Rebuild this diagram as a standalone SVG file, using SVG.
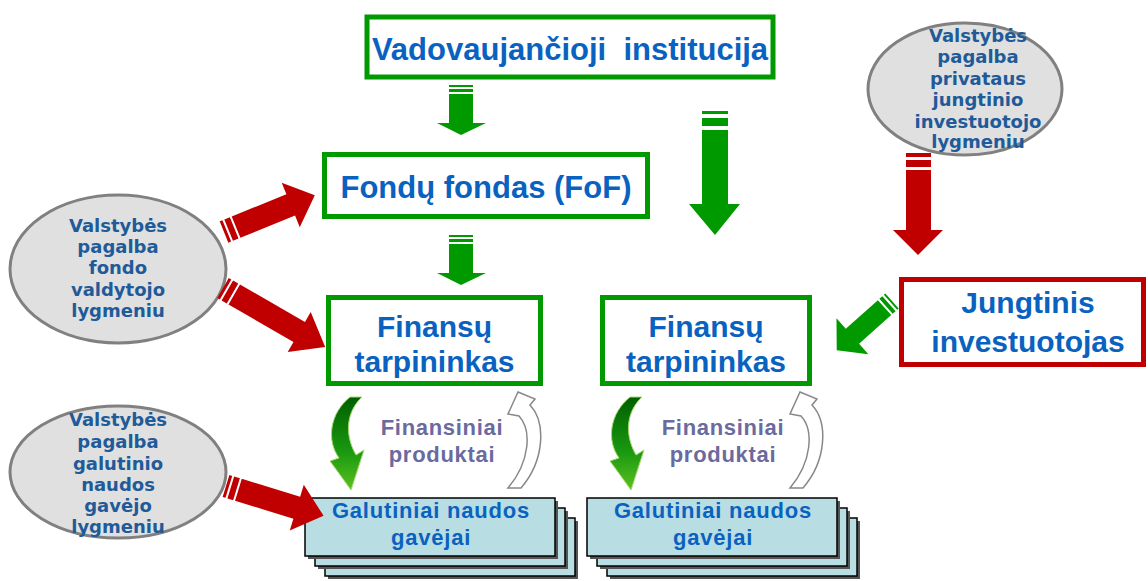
<svg xmlns="http://www.w3.org/2000/svg" width="1148" height="581" viewBox="0 0 1148 581">
<style>
.box{fill:#fff;stroke:#009900;stroke-width:5}
.rbox{fill:#fff;stroke:#c00000;stroke-width:5}
.t{font-family:"Liberation Sans",Arial,sans-serif;font-weight:bold;fill:#0a62c0;text-anchor:middle}
.gt{font-size:22px;letter-spacing:0.8px}
.ell{fill:#e0e0e0;stroke:#808080;stroke-width:3}
.et{font-family:"DejaVu Sans",Verdana,sans-serif;font-weight:bold;font-size:18px;fill:#1f5a99;text-anchor:middle}
.fp{font-family:"Liberation Sans",Arial,sans-serif;font-weight:bold;font-size:22px;letter-spacing:0.7px;fill:#6a6a9e;text-anchor:middle}
.card{fill:#b8dde3;stroke:#000;stroke-width:1.5}
.sh{fill:#555}
.g{fill:#009900}
.r{fill:#c00000}
.wa{fill:#fff;stroke:#888;stroke-width:1.5}
</style>
<defs>
<linearGradient id="cg" x1="0" y1="0" x2="0" y2="1">
<stop offset="0" stop-color="#005f00"/>
<stop offset="0.6" stop-color="#1a9a10"/>
<stop offset="1" stop-color="#5cc020"/>
</linearGradient>
<g id="stack">
<rect class="sh" x="23" y="23" width="250" height="58"/>
<rect class="card" x="20" y="20" width="250" height="58"/>
<rect class="sh" x="13" y="13" width="250" height="58"/>
<rect class="card" x="10" y="10" width="250" height="58"/>
<rect class="sh" x="3" y="3" width="250" height="58"/>
<rect class="card" x="0" y="0" width="250" height="58"/>
</g>
</defs>

<g id="vadovaujancioji">
<rect class="box" x="367" y="17" width="406" height="60"/>
<text class="t" x="570" y="60" font-size="31" xml:space="preserve" style="white-space:pre">Vadovaujančioji  institucija</text>
</g>

<g id="fof">
<rect class="box" x="324.5" y="154.5" width="323" height="62"/>
<text class="t" x="486" y="198" font-size="31">Fondų fondas (FoF)</text>
</g>

<g id="finansu1">
<rect class="box" x="328.5" y="297.5" width="212" height="86"/>
<text class="t" x="434.5" y="337" font-size="30">Finansų</text>
<text class="t" x="434.5" y="372" font-size="30">tarpininkas</text>
</g>

<g id="finansu2">
<rect class="box" x="602.5" y="297.5" width="207" height="86"/>
<text class="t" x="706" y="337" font-size="30">Finansų</text>
<text class="t" x="706" y="372" font-size="30">tarpininkas</text>
</g>

<g id="jungtinis">
<rect class="rbox" x="901.5" y="279.5" width="242" height="85"/>
<text class="t" x="1028" y="313" font-size="30">Jungtinis</text>
<text class="t" x="1028" y="352" font-size="30">investuotojas</text>
</g>

<g id="pagalba-fondo">
<ellipse class="ell" cx="118" cy="269" rx="108" ry="74"/>
<text class="et" x="118" y="232">Valstybės</text>
<text class="et" x="118" y="253">pagalba</text>
<text class="et" x="118" y="274">fondo</text>
<text class="et" x="118" y="296">valdytojo</text>
<text class="et" x="118" y="317">lygmeniu</text>
</g>

<g id="pagalba-gavejo">
<ellipse class="ell" cx="118" cy="472" rx="108" ry="66"/>
<text class="et" x="118" y="426">Valstybės</text>
<text class="et" x="118" y="448">pagalba</text>
<text class="et" x="118" y="470">galutinio</text>
<text class="et" x="118" y="491">naudos</text>
<text class="et" x="118" y="512">gavėjo</text>
<text class="et" x="118" y="533">lygmeniu</text>
</g>

<g id="pagalba-investuotojo">
<ellipse class="ell" cx="965" cy="89" rx="97" ry="66"/>
<text class="et" x="978" y="42">Valstybės</text>
<text class="et" x="978" y="63">pagalba</text>
<text class="et" x="978" y="85">privataus</text>
<text class="et" x="978" y="106">jungtinio</text>
<text class="et" x="978" y="128">investuotojo</text>
<text class="et" x="978" y="148">lygmeniu</text>
</g>

<g id="gavejai1">
<use href="#stack" x="305" y="498"/>
<text class="t gt" x="431" y="518">Galutiniai naudos</text>
<text class="t gt" x="431" y="545">gavėjai</text>
</g>

<g id="gavejai2">
<use href="#stack" x="587" y="498"/>
<text class="t gt" x="713" y="518">Galutiniai naudos</text>
<text class="t gt" x="713" y="545">gavėjai</text>
</g>

<g id="finansiniai-produktai1">
<text class="fp" x="442" y="435">Finansiniai</text>
<text class="fp" x="442" y="462">produktai</text>
</g>
<g id="finansiniai-produktai2">
<text class="fp" x="723" y="435">Finansiniai</text>
<text class="fp" x="723" y="462">produktai</text>
</g>

<g id="connectors">
<path class="g" d="M449 85h24v2h-24z M449 89h24v3h-24z M449 94h24v29h13l-25 12l-24-12h12z"/>
<path class="g" d="M449 235h24v2h-24z M449 239h24v3h-24z M449 244h24v29h13l-25 12l-24-12h12z"/>
<path class="g" d="M702 111h26v3h-26z M702 118h26v8h-26z M702 130h26v74h12l-25 31l-26-31h13z"/>
<path class="r" d="M906 153h25v4h-25z M906 160h25v7h-25z M906 170h25v60h12l-25 25l-25-25h13z"/>
<path class="r" transform="translate(224,232) rotate(-22.1)" d="M0 -11.5h3v23h-3z M5 -11.5h6v23h-6z M13 -11.5H72V-24L98 0L72 24V11.5H13z"/>
<path class="r" transform="translate(223,288) rotate(30)" d="M0 -11.5h3v23h-3z M5 -11.5h6v23h-6z M13 -11.5H88V-23L118 0L88 23V11.5H13z"/>
<path class="r" transform="translate(226,486) rotate(17)" d="M0 -11.5h3v23h-3z M5 -11.5h6v23h-6z M13 -11.5H74V-24L102 0L74 24V11.5H13z"/>
<path class="g" transform="translate(892,301) rotate(138.3)" d="M0 -10h2v20h-2z M4 -10h4v20h-4z M10 -10H53V-24L74 0L53 24V10H10z"/>
<path fill="url(#cg)" stroke="#a8d870" stroke-width="1" d="M350 397L362 397C348 410 343 432 356 455L364 450L351 490L330 461L339 458C326 440 330 413 350 397Z"/>
<path fill="url(#cg)" stroke="#a8d870" stroke-width="1" transform="translate(280,0)" d="M350 397L362 397C348 410 343 432 356 455L364 450L351 490L330 461L339 458C326 440 330 413 350 397Z"/>
<path class="wa" d="M518 392L535 399L530 405C546 422 545 460 521 488L508 488C530 462 532 430 519 416L508 414Z"/>
<path class="wa" transform="translate(282,0)" d="M518 392L535 399L530 405C546 422 545 460 521 488L508 488C530 462 532 430 519 416L508 414Z"/>
</g>
</svg>
